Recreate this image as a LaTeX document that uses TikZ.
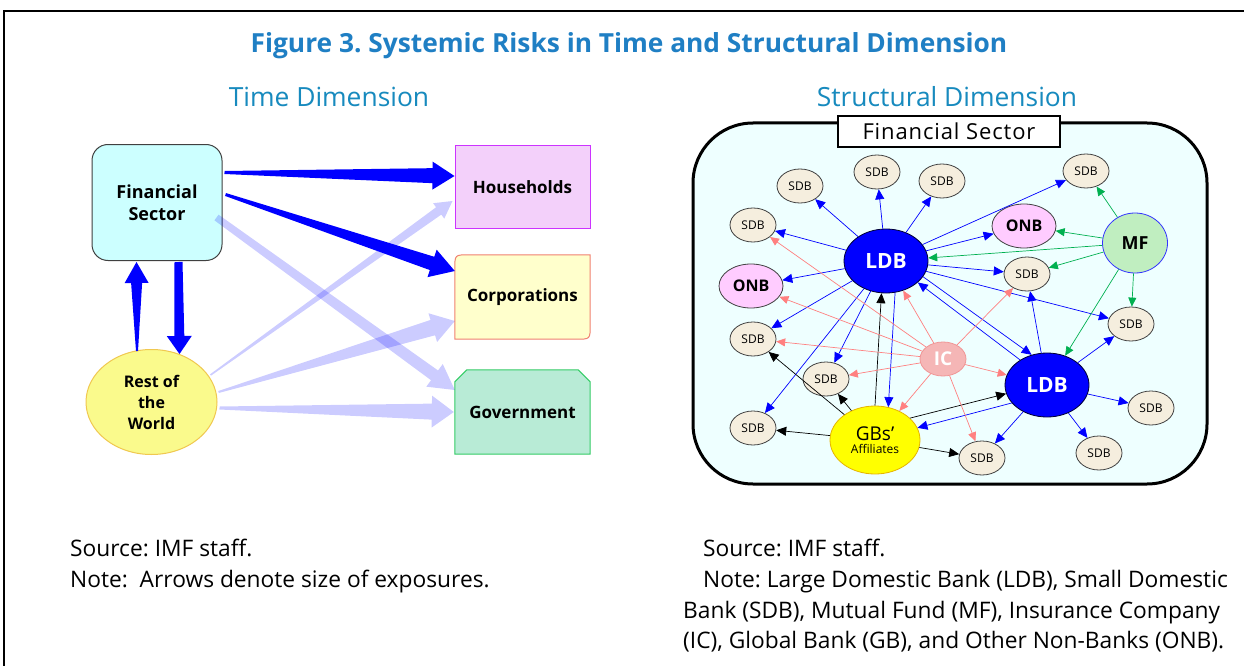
\documentclass[tikz,border=0pt]{standalone}
\usepackage{fontspec}
\setmainfont{Open Sans}
\usetikzlibrary{calc,arrows.meta,shapes.geometric}
\frenchspacing
\definecolor{titleblue}{RGB}{31,127,196}
\definecolor{subblue}{RGB}{23,138,190}
\definecolor{fscyan}{RGB}{204,255,255}
\definecolor{hhfill}{RGB}{243,208,250}
\definecolor{hhdraw}{RGB}{204,51,255}
\definecolor{cofill}{RGB}{255,255,204}
\definecolor{codraw}{RGB}{240,128,112}
\definecolor{govfill}{RGB}{184,235,214}
\definecolor{govdraw}{RGB}{51,204,102}
\definecolor{rowfill}{RGB}{250,250,140}
\definecolor{rowdraw}{RGB}{240,200,80}
\definecolor{panel}{RGB}{238,255,255}
\definecolor{sdbfill}{RGB}{245,238,222}
\definecolor{onbfill}{RGB}{255,204,255}
\definecolor{mffill}{RGB}{192,238,192}
\definecolor{icfill}{RGB}{245,182,182}
\definecolor{icdraw}{RGB}{240,150,150}
\definecolor{gbfill}{RGB}{255,255,0}
\definecolor{gbdraw}{RGB}{230,180,0}
\definecolor{egreen}{RGB}{0,176,80}
\definecolor{epink}{RGB}{255,128,128}
\newcommand{\fsz}[1]{\fontsize{#1}{#1}\selectfont}
% tapered arrow: #1 start, #2 tip, #3 start half width, #4 shaft-end half width,
% #5 head half width, #6 head length, #7 fill style
\newcommand{\taparrow}[7]{%
  \path ($(#2)!#6pt!(#1)$) coordinate (tpB);
  \fill[#7] ($(#1)!#3pt!90:(#2)$) -- ($(tpB)!#4pt!90:(#2)$) -- ($(tpB)!#5pt!90:(#2)$)
     -- (#2) -- ($(tpB)!#5pt!-90:(#2)$) -- ($(tpB)!#4pt!-90:(#2)$) -- ($(#1)!#3pt!-90:(#2)$) -- cycle;}
\tikzset{
  boxlbl/.style={font=\bfseries\fsz{17}, text=black, align=center},
  sdb/.style={ellipse, draw=black!75, fill=sdbfill, line width=0.8pt, minimum width=46pt, minimum height=34pt, inner sep=0pt, font=\fsz{12}},
  onb/.style={ellipse, draw=black!75, fill=onbfill, line width=0.8pt, minimum width=64pt, minimum height=44pt, inner sep=0pt, font=\bfseries\fsz{16}},
  ldb/.style={ellipse, draw=black!80!blue, fill=blue, line width=0.8pt, minimum width=84pt, minimum height=64pt, inner sep=0pt, text=white, font=\bfseries\fsz{21}},
  be/.style={draw=blue, line width=0.7pt, -{Triangle[length=10pt,width=9pt]}},
  ke/.style={draw=black, line width=0.7pt, -{Triangle[length=10pt,width=9pt]}},
  ge/.style={draw=egreen, line width=0.7pt, -{Triangle[length=9pt,width=8pt]}},
  pe/.style={draw=epink, line width=0.7pt, -{Triangle[length=9pt,width=8pt]}},
  solidarr/.style={fill=blue},
  lightarr/.style={fill=blue, fill opacity=0.2},
  note/.style={anchor=base west, inner sep=0pt, font=\fsz{22.75}},
}
\begin{document}
\begin{tikzpicture}[x=1pt,y=-1pt]
\useasboundingbox (0,0) rectangle (1244,666);
\fill[white] (0,0) rectangle (1244,666);
% frame
\draw[line width=2pt] (4,666) -- (4,11) -- (1244,11);

% titles
\node[anchor=base, inner sep=0pt, text=titleblue, font=\bfseries\fsz{26.3}] (title) at (629,53) {Figure 3. Systemic Risks in Time and Structural Dimension};
\node[anchor=base, inner sep=0pt, text=subblue, font=\fsz{26.4}] (tdim) at (329,107) {Time Dimension};
\node[anchor=base, inner sep=0pt, text=subblue, font=\fsz{26.4}] (sdim) at (947,107) {Structural Dimension};

% ---------------- left diagram ----------------
\node[draw=black!75, fill=fscyan, line width=1pt, rounded corners=16pt, minimum width=130pt, minimum height=116pt, boxlbl, font=\bfseries\fsz{18}] (fs) at (157,202.5) {Financial\\[4pt]Sector};
\node[draw=hhdraw, fill=hhfill, line width=1pt, minimum width=135pt, minimum height=83pt, boxlbl] (hh) at (522.5,187) {Households};
\node[minimum width=135pt, minimum height=84pt, inner sep=0pt] (co) at (522.5,297) {};
\draw[codraw, fill=cofill, line width=1pt]
  ($(co.north west)+(0,14)$) .. controls (co.north west) .. ($(co.north west)+(14,0)$)
  -- (co.north east) -- ($(co.south east)+(0,-14)$) .. controls (co.south east) .. ($(co.south east)+(-14,0)$)
  -- (co.south west) -- cycle;
\node[boxlbl] at (co.center) {Corporations};
\node[minimum width=135pt, minimum height=84pt, inner sep=0pt] (gov) at (522.5,412) {};
\draw[govdraw, fill=govfill, line width=1pt]
  ($(gov.north west)+(0,12)$) -- ($(gov.north west)+(12,0)$) -- ($(gov.north east)+(-12,0)$)
  -- ($(gov.north east)+(0,12)$) -- (gov.south east) -- (gov.south west) -- cycle;
\node[boxlbl] at (gov.center) {Government};
\node[ellipse, draw=rowdraw, fill=rowfill, line width=1pt, minimum width=131pt, minimum height=105pt, inner sep=0pt, boxlbl, font=\bfseries\fsz{16}] (row) at (151.5,402) {Rest of\\[5pt]the\\[5pt]World};

% connector end points
\coordinate (a1s) at ($(fs.east)+(2,-30)$);
\coordinate (a1t) at ($(hh.west)+(0,-11)$);
\coordinate (a2s) at ($(fs.east)+(3,-8)$);
\coordinate (a2t) at ($(co.west)+(0,-26)$);
\coordinate (a3s) at ($(fs.south)+(21.5,1)$);
\coordinate (a3t) at ($(row.north)+(28,5)$);
\coordinate (a4s) at ($(row.north)+(-14.5,2)$);
\coordinate (a4t) at ($(fs.south)+(-20.5,1)$);
\coordinate (a5s) at ($(fs.east)+(-6,15)$);
\coordinate (a5t) at ($(gov.west)+(0,-22)$);
\coordinate (a6s) at ($(row.east)+(-7,-27)$);
\coordinate (a6t) at ($(hh.west)+(-2,14)$);
\coordinate (a7s) at ($(row.east)+(1,-10)$);
\coordinate (a7t) at ($(co.west)+(0,24)$);
\coordinate (a8s) at ($(row.east)+(2,6)$);
\coordinate (a8t) at ($(gov.west)+(-1,0)$);

\taparrow{a5s}{a5t}{3.5}{6}{14}{25}{lightarr}
\taparrow{a6s}{a6t}{0.8}{4.5}{9.5}{17}{lightarr}
\taparrow{a7s}{a7t}{1}{8}{15}{23}{lightarr}
\taparrow{a8s}{a8t}{1.5}{8}{16}{22}{lightarr}
\taparrow{a1s}{a1t}{1.5}{7.5}{14}{22}{solidarr}
\taparrow{a2s}{a2t}{1.5}{7}{14.5}{24}{solidarr}
\taparrow{a3s}{a3t}{4}{5}{12.5}{18}{solidarr}
\taparrow{a4s}{a4t}{1}{5.5}{12}{21}{solidarr}

% ---------------- right diagram ----------------
\draw[line width=3pt, fill=panel, rounded corners=60pt] (693,123) rectangle (1207,484);
\node[draw=black, line width=2pt, fill=white, minimum width=222pt, minimum height=31pt, inner sep=0pt, font=\fsz{22}] (fsl) at (949,131.5) {\addfontfeature{LetterSpace=4}Financial Sector};

\node[sdb] (s1) at (800,186) {SDB};
\node[sdb] (s2) at (877,172) {SDB};
\node[sdb] (s3) at (942,181) {SDB};
\node[sdb] (s4) at (1086,171) {SDB};
\node[sdb] (s5) at (753,225) {SDB};
\node[sdb] (s6) at (1027,274) {SDB};
\node[sdb] (s7) at (1131,324) {SDB};
\node[sdb] (s8) at (753,339) {SDB};
\node[sdb] (s9) at (826,379) {SDB};
\node[sdb] (s10) at (753,428) {SDB};
\node[sdb] (s11) at (1151,408) {SDB};
\node[sdb] (s12) at (1099,453) {SDB};
\node[sdb] (s13) at (982,458) {SDB};
\node[onb] (onbA) at (1024,226) {ONB};
\node[onb] (onbB) at (751,286) {ONB};
\node[ldb] (ldbA) at (886,261) {LDB};
\node[ldb] (ldbB) at (1047,385) {LDB};
\node[ellipse, draw=blue!80, fill=mffill, line width=0.8pt, minimum width=65pt, minimum height=60pt, inner sep=0pt, font=\bfseries\fsz{18}] (mf) at (1135,243) {MF};
\node[ellipse, draw=icdraw, fill=icfill, line width=0.8pt, minimum width=46pt, minimum height=34pt, inner sep=0pt, text=white, font=\bfseries\fsz{19}] (ic) at (943,359) {IC};
\node[ellipse, draw=gbdraw, fill=gbfill, line width=0.8pt, minimum width=90pt, minimum height=68pt, inner sep=0pt, align=center] (gb) at (875,440) {{\fsz{19}GBs'}\\[1pt]{\fsz{12}Affiliates}};

% blue edges from first LDB
\foreach \t in {s1,s2,s3,s4,onbA,s5,onbB,s6,s7,s8,s9,s10}
  \draw[be] (ldbA) -- (\t);
\draw[be] (ldbA.-23) -- (ldbB.117);
\draw[be] (ldbB.137) -- (ldbA.-34);
\draw[be] (ldbA.-74) -- (gb.68);
\draw[ke] (gb.90) -- (ldbA.-98);
% blue edges from second LDB
\foreach \t in {s6,s7,s11,s12,s13}
  \draw[be] (ldbB) -- (\t);
\draw[be] (ldbB.207) -- (gb.16);
\draw[ke] (gb.32) -- (ldbB.192);
% black edges from GBs' affiliates
\foreach \t in {s8,s9,s10,s13}
  \draw[ke] (gb) -- (\t);
% green edges from MF
\foreach \t in {s4,onbA,ldbA,s6,s7,ldbB}
  \draw[ge] (mf) -- (\t);
% pink edges from IC
\foreach \t in {s5,onbB,s8,s9,gb,ldbA,s6,ldbB,s13}
  \draw[pe] (ic) -- (\t);

% ---------------- notes ----------------
\node[note] (srcL) at (70,556) {Source: IMF staff.};
\node[note] (noteL) at (70,587) {Note:\ \ Arrows denote size of exposures.};
\node[note] (srcR) at (703,556) {Source: IMF staff.};
\node[note] (noteR1) at (703,587) {Note: Large Domestic Bank (LDB), Small Domestic};
\node[note] (noteR2) at (683,618) {Bank (SDB), Mutual Fund (MF), Insurance Company};
\node[note] (noteR3) at (683,648) {(IC), Global Bank (GB), and Other Non-Banks (ONB).};
\end{tikzpicture}
\end{document}
